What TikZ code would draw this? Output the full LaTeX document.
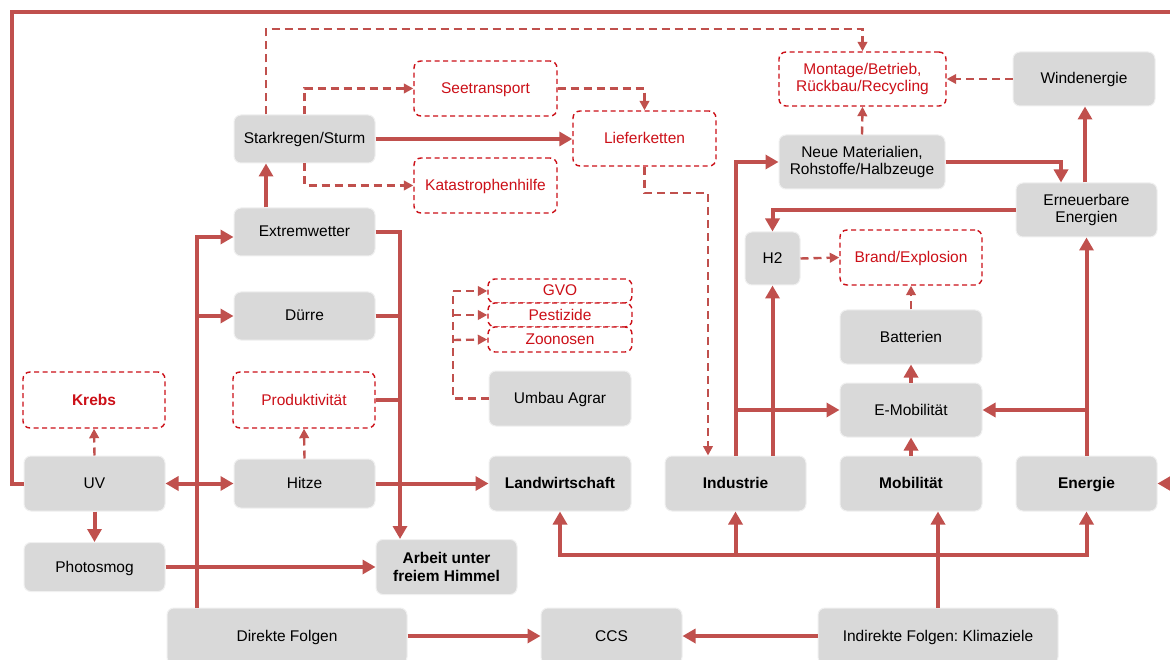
\documentclass[tikz,border=0pt]{standalone}
\usepackage{fontspec}
\setmainfont{Liberation Sans}
\usetikzlibrary{arrows.meta}
\definecolor{lred}{RGB}{192,80,77}
\definecolor{tred}{RGB}{204,16,24}
\definecolor{bgray}{RGB}{217,217,217}
\frenchspacing
\begin{document}
\begin{tikzpicture}[x=1pt,y=-1pt,
  every node/.style={font=\fontsize{15.5}{17.5}\selectfont, align=center, inner sep=2pt},
  box/.style={rectangle, rounded corners=7pt, fill=bgray, draw=black!6, line width=1pt, text=black},
  rbox/.style={rectangle, rounded corners=7pt, fill=white, draw=tred, dash pattern=on 5pt off 3.5pt, line width=1.4pt, text=tred},
  sl/.style={text height=11pt, text depth=1pt},
  thk/.style={draw=lred, line width=4pt, -{Triangle[length=13pt,width=14pt]}},
  thkn/.style={draw=lred, line width=4pt},
  dsh/.style={draw=lred, line width=2.4pt, dash pattern=on 8pt off 5pt, -{Triangle[length=9.5pt,width=9.5pt]}},
  dshn/.style={draw=lred, line width=2.4pt, dash pattern=on 8pt off 5pt}
]
\useasboundingbox (0,0) rectangle (1170,660);
\clip (0,0) rectangle (1170,660);
\fill[white] (0,0) rectangle (1170,660);

% nodes
\node[box, sl, minimum width=141pt, minimum height=48pt] (stark) at (304.5,139) {Starkregen/Sturm};
\node[box, sl, minimum width=141pt, minimum height=48pt] (extrem) at (304.5,232) {Extremwetter};
\node[box, sl, minimum width=141pt, minimum height=48pt] (duerre) at (304.5,316) {Dürre};
\node[rbox, sl, minimum width=142pt, minimum height=56pt] (prod) at (304,400) {Produktivität};
\node[box, sl, minimum width=141pt, minimum height=49pt] (hitze) at (304.5,483.5) {Hitze};
\node[rbox, sl, minimum width=142pt, minimum height=56pt] (krebs) at (94,400) {\bfseries Krebs};
\node[box, sl, minimum width=141pt, minimum height=55pt] (uv) at (94.5,483.5) {UV};
\node[box, sl, minimum width=141pt, minimum height=49pt] (photo) at (94.5,567) {Photosmog};
\node[box, sl, minimum width=240pt, minimum height=56pt] (direkt) at (287,636) {Direkte Folgen};
\node[box, sl, minimum width=141pt, minimum height=56pt] (ccs) at (611.5,636) {CCS};
\node[box, sl, minimum width=240pt, minimum height=56pt] (indirekt) at (938,636) {Indirekte Folgen: Klimaziele};
\node[box, minimum width=141pt, minimum height=55pt] (arbeit) at (446.5,567) {\bfseries Arbeit unter\\\bfseries freiem Himmel};
\node[box, sl, minimum width=142pt, minimum height=55pt] (landw) at (560,483.5) {\bfseries Landwirtschaft};
\node[box, sl, minimum width=141pt, minimum height=55pt] (indus) at (735.5,483.5) {\bfseries Industrie};
\node[box, sl, minimum width=142pt, minimum height=55pt] (mobil) at (911,483.5) {\bfseries Mobilität};
\node[box, sl, minimum width=141pt, minimum height=55pt] (energie) at (1086.5,483.5) {\bfseries Energie};
\node[box, sl, minimum width=142pt, minimum height=55pt] (umbau) at (560,398.5) {Umbau Agrar};
\node[rbox, sl, minimum width=144pt, minimum height=24pt, inner sep=0pt] (gvo) at (560,291) {GVO};
\node[rbox, sl, minimum width=144pt, minimum height=24pt, inner sep=0pt] (pest) at (560,315) {Pestizide};
\node[rbox, sl, minimum width=144pt, minimum height=25pt, inner sep=0pt] (zoon) at (560,339.5) {Zoonosen};
\node[rbox, sl, minimum width=143pt, minimum height=55pt] (see) at (485.5,88.5) {Seetransport};
\node[rbox, sl, minimum width=143pt, minimum height=55pt] (kata) at (485.5,185.5) {Katastrophenhilfe};
\node[rbox, sl, minimum width=143pt, minimum height=55pt] (liefer) at (644.5,138.5) {Lieferketten};
\node[rbox, minimum width=167pt, minimum height=54pt] (montage) at (862.5,79) {Montage/Betrieb,\\Rückbau/Recycling};
\node[box, sl, minimum width=142pt, minimum height=54pt] (wind) at (1084,79) {Windenergie};
\node[box, minimum width=166pt, minimum height=54pt] (neue) at (862,162) {Neue Materialien,\\Rohstoffe/Halbzeuge};
\node[box, minimum width=141pt, minimum height=54pt] (erneu) at (1086.5,210) {Erneuerbare\\Energien};
\node[box, sl, minimum width=55pt, minimum height=53pt] (h2) at (772.5,258.5) {H2};
\node[rbox, sl, minimum width=142pt, minimum height=55pt] (brand) at (911,257.5) {Brand/Explosion};
\node[box, sl, minimum width=142pt, minimum height=54pt] (batt) at (911,337) {Batterien};
\node[box, sl, minimum width=142pt, minimum height=54pt] (emob) at (911,410) {E-Mobilität};

% outer loop
\draw[thk] (uv.west) -- (12,483.5) -- (12,12) -- (1190,12) -- (1190,483.5) -- (energie.east);

% Starkregen group
\draw[thk] (extrem.north -| 266,0) -- (stark.south -| 266,0);
\draw[thk] (stark.east) -- (liefer.west |- stark.east);
\draw[dsh] (stark.north -| 266,0) -- (266,29) -- (862.5,29) -- (montage.north);
\draw[dsh] (stark.north) -- (304.5,88.5) -- (see.west);
\draw[dsh] (stark.south) -- (304.5,185.5) -- (kata.west);
\draw[dsh] (see.east) -- (644.5,88.5) -- (liefer.north);
\draw[dsh] (liefer.south) -- (644.5,193) -- (708,193) -- (indus.north -| 708,0);

% Direkte Folgen bus
\draw[thk] (direkt.north -| 197,0) -- (197,237) -- (extrem.west |- 0,237);
\draw[thk] (197,316) -- (duerre.west);
\draw[draw=lred, line width=4pt, {Triangle[length=13pt,width=14pt]}-{Triangle[length=13pt,width=14pt]}] (uv.east) -- (hitze.west);

% right bus to Arbeit
\draw[thk] (extrem.east) -- (400,232) -- (arbeit.north -| 400,0);
\draw[thkn] (duerre.east) -- (400,316);
\draw[thkn] (prod.east) -- (400,400);
\draw[thk] (hitze.east) -- (landw.west);
\draw[thk] (photo.east) -- (arbeit.west);
\draw[thk] (uv.south) -- (photo.north);
\draw[dsh] (uv.north) -- (krebs.south);
\draw[dsh] (hitze.north) -- (prod.south);

% Umbau Agrar
\draw[dshn] (umbau.west) -- (453,398.5) -- (453,291);
\draw[dsh] (453,291) -- (gvo.west);
\draw[dsh] (453,315) -- (pest.west);
\draw[dsh] (453,340) -- (zoon.west);

% bottom
\draw[thk] (direkt.east) -- (ccs.west);
\draw[thk] (indirekt.west) -- (ccs.east);
\draw[thk] (indirekt.north) -- (mobil.south -| indirekt.north);
\draw[thk] (938,555) -- (560,555) -- (landw.south);
\draw[thk] (735.5,555) -- (indus.south);
\draw[thk] (938,555) -- (1086.5,555) -- (energie.south);

% Industrie
\draw[thk] (indus.north -| 736,0) -- (736,162) -- (neue.west);
\draw[thk] (736,410) -- (emob.west);
\draw[thk] (indus.north -| 772.5,0) -- (h2.south);
\draw[thk] (neue.east) -- (1061,162) -- (erneu.north -| 1061,0);
\draw[thk] (erneu.north -| 1085,0) -- (wind.south -| 1085,0);
\draw[thk] (erneu.west) -- (772.5,210) -- (h2.north);
\draw[dsh] (h2.east) -- (brand.west);
\draw[dsh] (batt.north) -- (brand.south);
\draw[thk] (emob.north) -- (batt.south);
\draw[thk] (mobil.north) -- (emob.south);
\draw[thk] (energie.north) -- (erneu.south);
\draw[thk] (1086.5,410) -- (emob.east);
\draw[dsh] (wind.west) -- (montage.east);
\draw[dsh] (neue.north) -- (montage.south);
\end{tikzpicture}
\end{document}
